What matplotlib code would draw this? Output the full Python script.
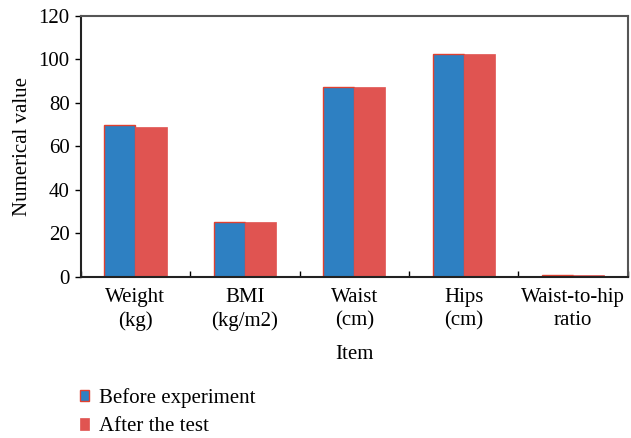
import matplotlib
matplotlib.use("Agg")
import matplotlib.pyplot as plt
import numpy as np

plt.rcParams["font.family"] = ["Liberation Serif", "DejaVu Serif"]

items = ["Weight\n(kg)", "BMI\n(kg/m2)", "Waist\n(cm)", "Hips\n(cm)", "Waist-to-hip\nratio"]
before = [69.7, 25.5, 87.5, 102.6, 0.9]
after = [69.1, 25.3, 87.3, 102.3, 0.88]
yticks = [0, 20, 40, 60, 80, 100, 120]

blue = "#2e80c2"
red = "#e05451"
fs = 15

fig = plt.figure(figsize=(6.31, 4.38), dpi=100)
ax = fig.add_axes([0.128, 0.3676, 0.867, 0.596])

x = np.arange(len(items))
w = 0.285
ax.bar(x - w / 2, before, w, color=blue, edgecolor="#e0402f", linewidth=1.0,
       label="Before experiment")
ax.bar(x + w / 2, after, w, color=red, edgecolor=red, linewidth=0.5,
       label="After the test")

ax.set_xlim(-0.5, len(items) - 0.5)
ax.set_ylim(0, 120)
ax.set_yticks(yticks)
ax.set_xticks(x)
ax.set_xticklabels(items, fontsize=fs, linespacing=1.3)
ax.tick_params(axis="x", length=0, pad=8)
ax.set_xticks(np.arange(len(items) + 1) - 0.5, minor=True)
ax.tick_params(axis="x", which="minor", direction="in", length=4, width=1)
ax.tick_params(axis="y", labelsize=fs, length=4, width=1, pad=4)
ax.set_ylabel("Numerical value", fontsize=fs, labelpad=5)
ax.set_xlabel("Item", fontsize=fs, labelpad=10)

for s in ["left", "bottom"]:
    ax.spines[s].set_linewidth(1.5)
    ax.spines[s].set_color("#222222")
for s in ["top", "right"]:
    ax.spines[s].set_linewidth(1.5)
    ax.spines[s].set_color("#555555")

fig.legend(loc="upper left", bbox_to_anchor=(0.113, 0.133), frameon=False,
           fontsize=fs, handlelength=0.45, handleheight=0.45, handletextpad=0.5,
           labelspacing=0.45, borderaxespad=0)

fig.savefig("out.png", dpi=100)
